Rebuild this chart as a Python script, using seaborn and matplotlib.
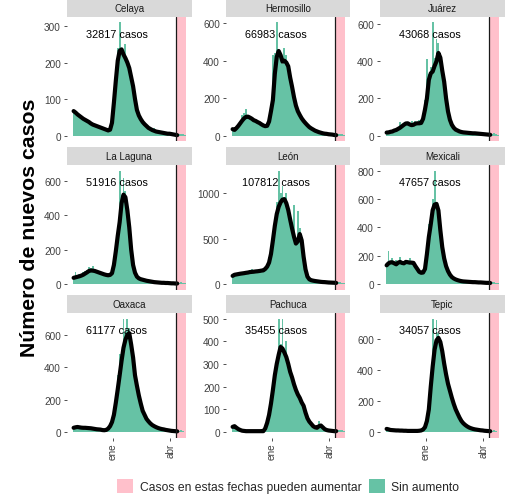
import numpy as np
import pandas as pd
import matplotlib
matplotlib.use("Agg")
import matplotlib.pyplot as plt
import matplotlib.dates as mdates
from matplotlib.patches import Patch
import seaborn as sns

# ---------------- data ----------------
cities = ["Celaya", "Hermosillo", "Juárez", "La Laguna", "León",
          "Mexicali", "Oaxaca", "Pachuca", "Tepic"]
totals = [32817, 66983, 43068, 51916, 107812, 47657, 61177, 35455, 34057]

start_date = "2021-10-30"   # first 3-day bin
bin_days = 3
n_bins = 59
cutoff_date = "2022-04-10"  # cases after this date may still increase
xtick_dates = ["2022-01-01", "2022-04-01"]
xtick_labels = ["ene", "abr"]
label_date = "2022-01-07"
legend_labels = ["Casos en estas fechas pueden aumentar", "Sin aumento"]
ylabel = "Número de nuevos casos"

bars_celaya = [62, 60, 55, 58, 47, 46, 40, 42, 35, 30,
               32, 26, 30, 22, 20, 22, 18, 15, 13, 18,
               40, 110, 170, 240, 310, 240, 225, 250, 200, 180,
               150, 130, 95, 65, 52, 40, 35, 30, 24, 20,
               18, 16, 20, 10, 9, 8, 8, 6, 6, 5,
               4, 4, 3, 2, 2, 3, 5, 3, 1]
line_celaya = [67, 63, 58, 54, 50, 46, 43, 40, 37, 33,
               30, 28, 26, 24, 22, 20, 18, 16, 14, 16,
               35, 90, 150, 205, 232, 236, 222, 212, 200, 185,
               160, 135, 100, 70, 55, 45, 37, 31, 26, 21,
               18, 15, 13, 11, 10, 9, 8, 7, 6, 5,
               5, 4, 3, 2, 1]

bars_hermosillo = [40, 20, 45, 60, 75, 110, 120, 140, 110, 100,
                   95, 80, 85, 70, 75, 60, 55, 45, 55, 90,
                   150, 430, 440, 605, 420, 400, 380, 470, 430, 370,
                   300, 260, 200, 155, 125, 105, 90, 75, 62, 52,
                   44, 36, 30, 25, 20, 17, 14, 12, 10, 8,
                   7, 6, 5, 3, 3, 6, 10, 6, 2]
line_hermosillo = [34, 30, 40, 52, 66, 80, 92, 100, 101, 96,
                   90, 82, 78, 72, 67, 60, 54, 50, 52, 75,
                   130, 190, 330, 420, 452, 430, 395, 400, 390, 370,
                   310, 260, 205, 160, 130, 110, 92, 78, 66, 55,
                   45, 38, 32, 26, 22, 18, 15, 12, 10, 9,
                   7, 6, 5, 3, 2]

bars_juarez = [15, 20, 25, 30, 30, 35, 40, 75, 55, 60,
               70, 60, 62, 80, 60, 78, 70, 85, 75, 100,
               190, 410, 330, 370, 610, 420, 520, 500, 440, 360,
               290, 200, 125, 80, 55, 40, 30, 26, 22, 19,
               17, 16, 15, 14, 13, 12, 12, 11, 10, 9,
               8, 7, 6, 5, 5, 8, 12, 8, 3]
line_juarez = [16, 17, 20, 22, 27, 30, 36, 42, 50, 58,
               65, 66, 60, 56, 58, 64, 66, 66, 68, 90,
               140, 200, 300, 335, 345, 375, 400, 445, 420, 350,
               290, 200, 130, 85, 58, 42, 32, 27, 22, 19,
               17, 16, 15, 14, 13, 12, 12, 11, 10, 9,
               8, 7, 6, 5, 4]

bars_laguna = [40, 70, 45, 60, 55, 70, 75, 80, 100, 90,
               105, 80, 75, 70, 65, 60, 55, 52, 50, 55,
               70, 130, 230, 330, 660, 520, 620, 540, 430, 320,
               190, 100, 60, 40, 32, 27, 24, 21, 18, 16,
               14, 12, 10, 9, 8, 7, 6, 6, 5, 5,
               4, 3, 3, 2, 2, 5, 8, 5, 2]
line_laguna = [35, 38, 41, 44, 48, 53, 60, 67, 75, 78,
               77, 75, 71, 67, 63, 59, 55, 52, 50, 52,
               62, 110, 190, 280, 360, 470, 520, 505, 430, 330,
               200, 110, 65, 42, 32, 27, 24, 21, 18, 16,
               14, 12, 10, 9, 8, 7, 6, 6, 5, 5,
               4, 3, 3, 2, 2]

bars_leon = [80, 95, 110, 100, 120, 110, 125, 115, 130, 125,
             160, 130, 140, 135, 150, 145, 140, 180, 220, 300,
             380, 550, 720, 900, 1250, 1000, 1080, 960, 1000, 850,
             750, 650, 870, 500, 800, 620, 520, 280, 150, 75,
             48, 40, 34, 30, 27, 25, 22, 20, 18, 17,
             15, 14, 12, 12, 10, 15, 25, 12, 5]
line_leon = [88, 100, 104, 108, 112, 115, 118, 122, 125, 130,
             132, 134, 137, 139, 142, 146, 149, 165, 190, 235,
             330, 480, 640, 770, 850, 900, 930, 935, 890, 815,
             710, 610, 520, 445, 470, 550, 480, 300, 160, 80,
             50, 40, 35, 31, 28, 25, 22, 20, 19, 17,
             15, 14, 13, 12, 10]

bars_mexicali = [140, 230, 160, 180, 150, 170, 140, 190, 160, 150,
                 160, 150, 180, 160, 130, 120, 95, 80, 75, 90,
                 150, 260, 420, 450, 600, 800, 560, 480, 380, 270,
                 190, 130, 85, 60, 45, 36, 30, 25, 21, 19,
                 17, 16, 15, 14, 13, 12, 12, 11, 10, 10,
                 9, 8, 7, 7, 6, 10, 15, 8, 3]
line_mexicali = [131, 145, 152, 152, 145, 138, 150, 155, 148, 145,
                 155, 153, 150, 150, 148, 125, 105, 85, 78, 80,
                 105, 210, 330, 420, 520, 560, 565, 519, 380, 260,
                 180, 125, 90, 65, 48, 38, 31, 26, 22, 19,
                 17, 16, 15, 14, 13, 12, 12, 11, 10, 10,
                 9, 8, 7, 7, 6]

bars_oaxaca = [30, 25, 35, 25, 28, 22, 25, 22, 24, 20,
               22, 18, 15, 16, 12, 12, 10, 15, 25, 45,
               80, 140, 220, 350, 480, 460, 700, 620, 700, 640,
               520, 440, 340, 280, 220, 170, 130, 100, 80, 62,
               50, 40, 33, 28, 23, 20, 17, 14, 12, 10,
               8, 6, 5, 4, 3, 6, 10, 6, 2]
line_oaxaca = [25, 28, 30, 28, 26, 25, 25, 24, 23, 22,
               20, 18, 16, 15, 14, 11, 10, 12, 20, 35,
               60, 105, 180, 263, 350, 440, 520, 570, 600, 610,
               540, 460, 350, 285, 225, 175, 130, 105, 80, 65,
               52, 42, 35, 29, 24, 20, 17, 15, 12, 10,
               8, 6, 5, 4, 3]

bars_pachuca = [25, 20, 15, 10, 8, 5, 4, 5, 3, 4,
                3, 2, 3, 4, 3, 3, 4, 20, 50, 90,
                160, 220, 260, 330, 500, 390, 500, 360, 400, 300,
                270, 240, 210, 190, 170, 150, 130, 110, 80, 55,
                40, 30, 25, 20, 25, 50, 30, 18, 12, 8,
                6, 5, 4, 3, 3, 6, 10, 6, 2]
line_pachuca = [22, 25, 18, 12, 8, 5, 4, 3, 3, 3,
                3, 3, 3, 3, 3, 3, 3, 15, 40, 75,
                125, 185, 250, 300, 340, 375, 368, 350, 330, 300,
                265, 240, 210, 185, 165, 150, 130, 115, 85, 60,
                45, 35, 25, 20, 18, 25, 28, 20, 12, 8,
                6, 5, 4, 3, 3]

bars_tepic = [22, 18, 12, 10, 10, 9, 9, 8, 8, 7,
              7, 6, 6, 6, 6, 6, 6, 7, 9, 15,
              35, 80, 170, 330, 730, 560, 720, 640, 580, 510,
              430, 360, 300, 255, 210, 175, 140, 112, 88, 68,
              52, 42, 34, 27, 22, 18, 15, 13, 11, 10,
              8, 7, 6, 5, 4, 6, 10, 6, 2]
line_tepic = [19, 16, 12, 11, 10, 9, 9, 8, 8, 7,
              7, 6, 6, 6, 6, 6, 6, 7, 9, 15,
              30, 70, 144, 290, 420, 530, 590, 606, 580, 520,
              440, 370, 310, 265, 220, 180, 145, 118, 92, 70,
              55, 44, 35, 28, 23, 19, 16, 14, 12, 10,
              9, 7, 6, 5, 4]

yticks_celaya = [0, 100, 200, 300]
yticks_hermosillo = [0, 200, 400, 600]
yticks_juarez = [0, 200, 400, 600]
yticks_laguna = [0, 200, 400, 600]
yticks_leon = [0, 500, 1000]
yticks_mexicali = [0, 200, 400, 600, 800]
yticks_oaxaca = [0, 200, 400, 600]
yticks_pachuca = [0, 100, 200, 300, 400, 500]
yticks_tepic = [0, 200, 400, 600]

all_bars = [bars_celaya, bars_hermosillo, bars_juarez, bars_laguna, bars_leon,
            bars_mexicali, bars_oaxaca, bars_pachuca, bars_tepic]
all_lines = [line_celaya, line_hermosillo, line_juarez, line_laguna, line_leon,
             line_mexicali, line_oaxaca, line_pachuca, line_tepic]
all_yticks = [yticks_celaya, yticks_hermosillo, yticks_juarez, yticks_laguna,
              yticks_leon, yticks_mexicali, yticks_oaxaca, yticks_pachuca,
              yticks_tepic]

# ---------------- style ----------------
sns.set_theme(style="white")
plt.rcParams['font.family'] = ['Liberation Sans', 'DejaVu Sans']

GREEN = "#66C2A5"
PINK = "#FFC0CB"
STRIP = "#D9D9D9"

W, H = 525, 502
fig = plt.figure(figsize=(W / 100, H / 100), dpi=100)
fig.patch.set_facecolor("white")

col_left = [67, 226, 380]
row_top = [17.7, 166, 314]
pw, ph, sh = 124.5, 124.5, 17.7

dates = pd.date_range(start_date, periods=n_bins, freq=f"{bin_days}D")
xnum = mdates.date2num(dates)
x_start = xnum[0]
x_end = xnum[-1] + bin_days
span = x_end - x_start
cut = mdates.date2num(pd.Timestamp(cutoff_date))
xt = mdates.date2num(pd.to_datetime(xtick_dates))
xlab = mdates.date2num(pd.Timestamp(label_date))

for i, city in enumerate(cities):
    r, c = divmod(i, 3)
    l, t = col_left[c], row_top[r]
    ax = fig.add_axes([l / W, 1 - (t + ph) / H, pw / W, ph / H])
    ax.set_facecolor("white")
    for s in ax.spines.values():
        s.set_visible(False)
    bars = np.array(all_bars[i], dtype=float)
    line = np.array(all_lines[i], dtype=float)
    M = bars.max()

    ax.axvspan(cut, x_end, color=PINK, lw=0, zorder=0)
    ax.bar(xnum, bars, width=bin_days, align="edge", color=GREEN,
           lw=0, zorder=1)
    df = pd.DataFrame({"x": xnum[:len(line)] + bin_days / 2, "y": line})
    sns.lineplot(data=df, x="x", y="y", ax=ax, color="black", lw=3.0,
                 zorder=3, solid_capstyle="round", solid_joinstyle="round")
    ax.axvline(cut, color="#1A1A1A", lw=0.9, zorder=4)
    ax.text(xlab, 0.9 * M, f"{totals[i]} casos", ha="center", va="center",
            fontsize=7.8, color="black", zorder=5)

    ax.set_xlim(x_start - 0.05 * span, x_end + 0.05 * span)
    ax.set_ylim(-0.05 * M, 1.05 * M)
    ax.set_yticks(all_yticks[i])
    ax.set_yticklabels([str(v) for v in all_yticks[i]])
    ax.set_xlabel("")
    ax.set_ylabel("")
    ax.tick_params(axis="y", left=True, length=2.2, width=0.6,
                   color="#333333", pad=2.2, labelsize=7.2,
                   labelcolor="#404040")
    if r == 2:
        ax.set_xticks(xt)
        ax.set_xticklabels(xtick_labels, rotation=90, ha="center", va="top")
        ax.tick_params(axis="x", bottom=True, length=2.2, width=0.6,
                       color="#333333", pad=1.5, labelsize=7.2,
                       labelcolor="#404040")
    else:
        ax.set_xticks([])
    ax.grid(False)

    sax = fig.add_axes([l / W, 1 - t / H, pw / W, sh / H])
    sax.set_facecolor(STRIP)
    for s in sax.spines.values():
        s.set_visible(False)
    sax.set_xticks([])
    sax.set_yticks([])
    sax.text(0.5, 0.5, city, ha="center", va="center", fontsize=7,
             color="#1A1A1A", transform=sax.transAxes)

fig.text(30 / W, 1 - 228 / H, ylabel, rotation=90, ha="center",
         va="center", fontsize=15.3, fontweight="bold", color="black")

handles = [Patch(facecolor=PINK, edgecolor="none", label=legend_labels[0]),
           Patch(facecolor=GREEN, edgecolor="none", label=legend_labels[1])]
fig.legend(handles=handles, loc="center", bbox_to_anchor=(288 / W, 1 - 487 / H),
           ncol=2, frameon=False, fontsize=8.7, handlelength=1.35,
           handleheight=1.35, handletextpad=0.55, columnspacing=0.6,
           borderaxespad=0, borderpad=0)

fig.savefig("out.png", dpi=100, facecolor="white")
